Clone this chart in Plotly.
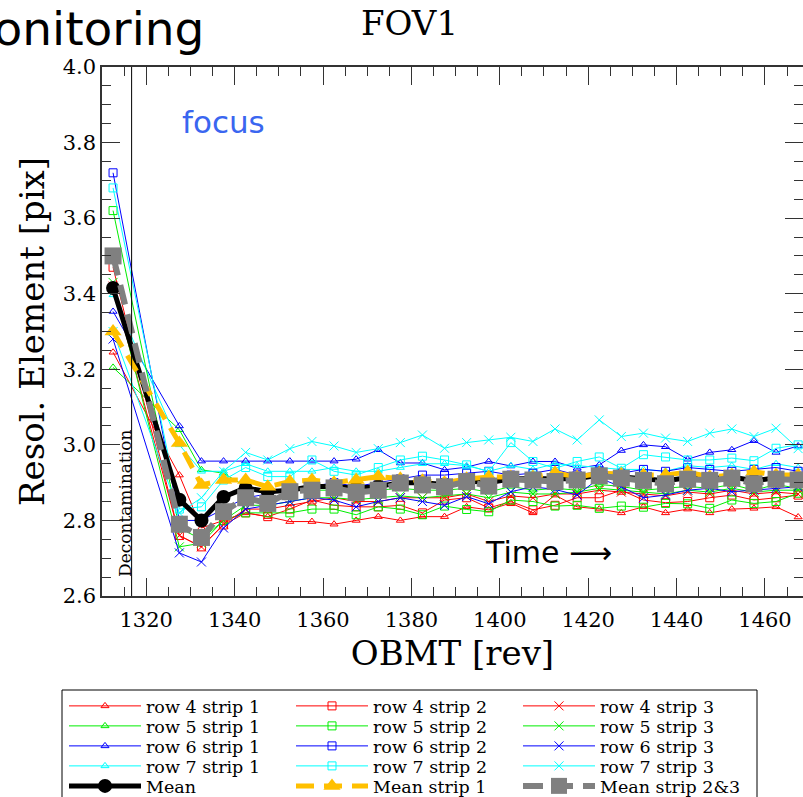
import plotly.graph_objects as go

# ---------------- data ----------------
obmt = [1312.5, 1327.5, 1332.5, 1337.5, 1342.5, 1347.5, 1352.5, 1357.5, 1362.5, 1367.5,
        1372.5, 1377.5, 1382.5, 1387.5, 1392.5, 1397.5, 1402.5, 1407.5, 1412.5, 1417.5,
        1422.5, 1427.5, 1432.5, 1437.5, 1442.5, 1447.5, 1452.5, 1457.5, 1462.5, 1467.5]

row4_strip1 = [3.245, 2.92, 2.78, 2.80, 2.82, 2.81, 2.797, 2.797, 2.79, 2.80, 2.81, 2.80, 2.81,
               2.81, 2.836, 2.828, 2.846, 2.82, 2.867, 2.836, 2.83, 2.82, 2.836, 2.82, 2.83, 2.82,
               2.83, 2.832, 2.836, 2.809]
row5_strip1 = [3.205, 3.04, 2.934, 2.925, 2.89, 2.88, 2.88, 2.88, 2.88, 2.875, 2.88, 2.885, 2.88,
               2.88, 2.885, 2.875, 2.89, 2.88, 2.885, 2.88, 2.895, 2.89, 2.88, 2.885, 2.89, 2.885,
               2.895, 2.88, 2.895, 2.885]
row6_strip1 = [3.353, 3.05, 2.957, 2.957, 2.957, 2.957, 2.957, 2.957, 2.957, 2.962, 2.987, 2.952, 2.952,
               2.934, 2.941, 2.956, 2.944, 2.956, 2.956, 2.938, 2.947, 2.985, 3.00, 2.995, 2.962, 2.98,
               2.987, 3.011, 2.98, 2.997]
row7_strip1 = [3.397, 3.00, 2.93, 2.93, 2.95, 2.93, 2.93, 2.93, 2.94, 2.93, 2.93, 2.94, 2.95,
               2.95, 2.945, 2.93, 2.945, 2.935, 2.95, 2.945, 2.94, 2.935, 2.935, 2.93, 2.945, 2.94,
               2.945, 2.935, 2.95, 2.94]

row4_strip2 = [3.47, 2.76, 2.73, 2.788, 2.82, 2.81, 2.83, 2.854, 2.84, 2.836, 2.836, 2.84, 2.82,
               2.854, 2.86, 2.833, 2.85, 2.828, 2.84, 2.86, 2.86, 2.88, 2.854, 2.847, 2.85, 2.86,
               2.867, 2.854, 2.86, 2.867]
row5_strip2 = [3.62, 2.78, 2.75, 2.80, 2.82, 2.82, 2.82, 2.83, 2.83, 2.815, 2.836, 2.83, 2.815,
               2.838, 2.829, 2.823, 2.854, 2.85, 2.838, 2.84, 2.832, 2.838, 2.835, 2.845, 2.844, 2.832,
               2.854, 2.845, 2.85, 2.872]
row6_strip2 = [3.72, 2.80, 2.80, 2.83, 2.86, 2.87, 2.88, 2.89, 2.90, 2.89, 2.90, 2.91, 2.92,
               2.92, 2.925, 2.93, 2.92, 2.925, 2.935, 2.92, 2.93, 2.925, 2.935, 2.93, 2.94, 2.935,
               2.93, 2.935, 2.94, 2.93]
row7_strip2 = [3.68, 2.83, 2.836, 2.907, 2.94, 2.916, 2.916, 2.96, 2.93, 2.92, 2.94, 2.96, 2.97,
               2.96, 2.947, 2.929, 3.006, 2.956, 2.938, 2.956, 2.968, 2.938, 2.974, 2.968, 2.96, 2.96,
               2.965, 2.958, 2.991, 3.00]

row4_strip3 = [3.42, 2.76, 2.73, 2.79, 2.83, 2.83, 2.84, 2.85, 2.86, 2.85, 2.85, 2.86, 2.86,
               2.86, 2.87, 2.85, 2.865, 2.86, 2.87, 2.87, 2.88, 2.875, 2.87, 2.865, 2.875, 2.87,
               2.88, 2.87, 2.875, 2.87]
row5_strip3 = [3.43, 2.73, 2.74, 2.80, 2.84, 2.84, 2.85, 2.86, 2.86, 2.855, 2.86, 2.865, 2.86,
               2.865, 2.87, 2.86, 2.875, 2.87, 2.87, 2.875, 2.885, 2.88, 2.875, 2.87, 2.88, 2.875,
               2.885, 2.875, 2.88, 2.88]
row6_strip3 = [3.28, 2.714, 2.69, 2.78, 2.83, 2.84, 2.85, 2.86, 2.854, 2.836, 2.85, 2.86, 2.85,
               2.84, 2.863, 2.844, 2.876, 2.889, 2.882, 2.867, 2.912, 2.889, 2.86, 2.867, 2.88, 2.885,
               2.876, 2.88, 2.885, 2.889]
row7_strip3 = [3.30, 2.82, 2.86, 2.93, 2.98, 2.96, 2.99, 3.009, 2.997, 2.98, 2.99, 3.006, 3.026,
               2.991, 3.006, 3.013, 3.02, 3.009, 3.042, 3.013, 3.066, 3.022, 3.031, 3.018, 3.009, 3.031,
               3.042, 3.022, 3.044, 2.99]

mean_all = [3.415, 2.855, 2.80, 2.862, 2.886, 2.876, 2.88, 2.89, 2.89, 2.885, 2.89, 2.90, 2.90,
            2.895, 2.905, 2.90, 2.91, 2.91, 2.91, 2.91, 2.92, 2.915, 2.91, 2.905, 2.913, 2.91,
            2.915, 2.905, 2.913, 2.912]
mean_strip1 = [3.30, 3.005, 2.894, 2.907, 2.907, 2.889, 2.903, 2.907, 2.90, 2.907, 2.916, 2.91, 2.905,
               2.90, 2.91, 2.915, 2.915, 2.915, 2.926, 2.915, 2.925, 2.922, 2.92, 2.92, 2.928, 2.915,
               2.92, 2.929, 2.92, 2.92]
mean_strip23 = [3.50, 2.79, 2.755, 2.823, 2.86, 2.845, 2.876, 2.88, 2.886, 2.874, 2.88, 2.899, 2.894,
                2.889, 2.903, 2.891, 2.909, 2.907, 2.903, 2.907, 2.918, 2.912, 2.906, 2.897, 2.909, 2.906,
                2.912, 2.897, 2.909, 2.907]

decontamination_obmt = 1316.7

# ---------------- styling ----------------
SERIF = "DejaVu Serif"
SANS = "DejaVu Sans"
AXC = "#333333"

row_colors = {4: "#ff0000", 5: "#00ee00", 6: "#0000ff", 7: "#00ffff"}
strip_symbols = {1: ("triangle-up-open", 7), 2: ("square-open", 8), 3: ("x-thin-open", 9)}
row_legend = {4: "legend", 5: "legend2", 6: "legend3", 7: "legend4"}

thin_series = [
    (4, 1, row4_strip1), (5, 1, row5_strip1), (6, 1, row6_strip1), (7, 1, row7_strip1),
    (4, 2, row4_strip2), (5, 2, row5_strip2), (6, 2, row6_strip2), (7, 2, row7_strip2),
    (4, 3, row4_strip3), (5, 3, row5_strip3), (6, 3, row6_strip3), (7, 3, row7_strip3),
]

fig = go.Figure()
for row, strip, vals in thin_series:
    c = row_colors[row]
    sym, sz = strip_symbols[strip]
    fig.add_trace(go.Scatter(
        x=obmt, y=vals, mode="lines+markers",
        name=f"row {row} strip {strip}",
        line=dict(color=c, width=1),
        marker=dict(symbol=sym, size=sz, color=c, line=dict(color=c, width=1)),
        legend=row_legend[row], legendrank=strip,
    ))

fig.add_trace(go.Scatter(
    x=obmt, y=mean_all, mode="lines+markers", name="Mean",
    line=dict(color="black", width=5),
    marker=dict(symbol="circle", size=14, color="black"),
    legend="legend5", legendrank=1,
))
fig.add_trace(go.Scatter(
    x=obmt, y=mean_strip1, mode="lines+markers", name="Mean strip 1",
    line=dict(color="#ffc000", width=5, dash="18px,10px"),
    marker=dict(symbol="triangle-up", size=15, color="#ffc000"),
    legend="legend5", legendrank=2,
))
fig.add_trace(go.Scatter(
    x=obmt, y=mean_strip23, mode="lines+markers", name="Mean strip 2&3",
    line=dict(color="#808080", width=6, dash="20px,10px"),
    marker=dict(symbol="square", size=17, color="#808080"),
    legend="legend5", legendrank=3,
))

# decontamination marker line
fig.add_vline(x=decontamination_obmt, line=dict(color="black", width=1))

L, T, B, W, H = 102, 67, 201, 803, 797
PW, PH = W - L, H - T - B


def px_x(p):
    return (p - L) / PW


def px_y(p):
    return (H - B - p) / PH


legend_rows = [706, 726, 746, 766, 786]
legend_common = dict(orientation="h", xref="paper", yref="paper", x=px_x(64), xanchor="left",
                     yanchor="middle", bgcolor="rgba(0,0,0,0)", borderwidth=0,
                     font=dict(family=SERIF, size=17.5, color="black"),
                     itemwidth=72, entrywidth=140, itemclick=False, itemdoubleclick=False)
legend_layout = {}
for i, py in enumerate(legend_rows):
    key = "legend" if i == 0 else f"legend{i + 1}"
    legend_layout[key] = dict(legend_common, y=px_y(py))

fig.update_layout(
    width=W, height=H,
    margin=dict(l=L, r=0, t=T, b=B, autoexpand=False),
    paper_bgcolor="white", plot_bgcolor="white",
    showlegend=True,
    font=dict(family=SERIF, color="black"),
    **legend_layout,
)

fig.update_xaxes(
    range=[1310, 1468.6], tick0=1300, dtick=20,
    ticks="inside", ticklen=18, tickwidth=1.3, tickcolor=AXC,
    minor=dict(dtick=5, ticks="inside", ticklen=9, tickwidth=1.3, tickcolor=AXC, showgrid=False),
    showline=True, linecolor=AXC, linewidth=1.5, mirror="ticks",
    showgrid=False, zeroline=False, ticklabelstandoff=4,
    tickfont=dict(family=SERIF, size=21, color="black"),
    title=dict(text="OBMT [rev]", font=dict(family=SERIF, size=34, color="black"), standoff=10),
)
fig.update_yaxes(
    range=[2.6, 4.0], tick0=2.6, dtick=0.2, tickformat=".1f",
    ticks="inside", ticklen=18, tickwidth=1.3, tickcolor=AXC,
    minor=dict(dtick=0.05, ticks="inside", ticklen=9, tickwidth=1.3, tickcolor=AXC, showgrid=False),
    showline=True, linecolor=AXC, linewidth=1.5, mirror="ticks",
    showgrid=False, zeroline=False,
    tickfont=dict(family=SERIF, size=21, color="black"),
    title=dict(text="Resol. Element [pix]", font=dict(family=SERIF, size=34, color="black"), standoff=8),
)

# legend frame
fig.add_shape(type="rect", xref="paper", yref="paper",
              x0=px_x(62), x1=px_x(757), y0=px_y(690), y1=px_y(815),
              line=dict(color="black", width=1), fillcolor="rgba(0,0,0,0)", layer="above")

annotations = [
    dict(text="FOV1", x=px_x(409), y=px_y(23), xanchor="center", yanchor="middle",
         font=dict(family=SERIF, size=34, color="black")),
    dict(text="Monitoring", x=px_x(206), y=px_y(29), xanchor="right", yanchor="middle",
         font=dict(family=SANS, size=47, color="black")),
    dict(text="focus", x=px_x(180), y=px_y(122), xanchor="left", yanchor="middle",
         font=dict(family=SANS, size=31, color="#3a66f0")),
    dict(text="Time \u27f6", x=px_x(483), y=px_y(552), xanchor="left", yanchor="middle",
         font=dict(family=SANS, size=30, color="black")),
    dict(text="Decontamination", x=px_x(125), y=px_y(503), xanchor="center", yanchor="middle",
         textangle=-90, font=dict(family=SERIF, size=17, color="black")),
]
for a in annotations:
    fig.add_annotation(xref="paper", yref="paper", showarrow=False, **a)

fig.write_html("out.html")
